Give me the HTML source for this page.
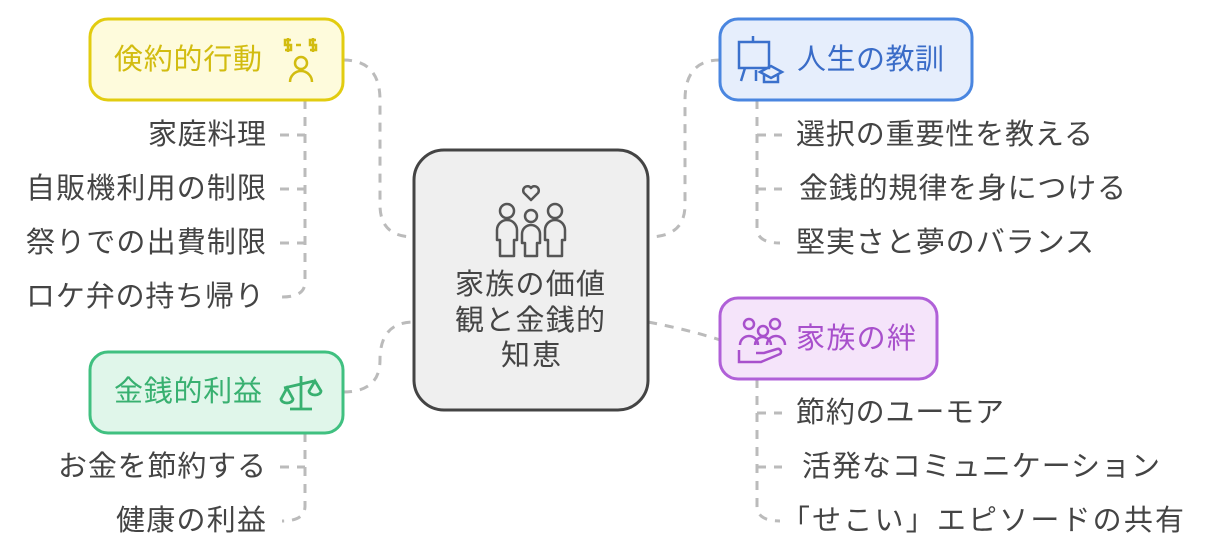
<!DOCTYPE html>
<html><head><meta charset="utf-8"><style>
html,body{margin:0;padding:0;background:#fff;}
svg{display:block;}
text{font-family:"Liberation Sans","Noto Sans CJK JP",sans-serif;font-size:29px;dominant-baseline:central;}
.leaf{fill:#444;}
.d{fill:none;stroke:#bbb;stroke-width:3;stroke-dasharray:9 8;}
</style></head><body>
<svg width="1206" height="560" viewBox="0 0 1206 560" xmlns="http://www.w3.org/2000/svg">
<path class="d" d="M343 60 Q380 60 380 100 L380 205 Q380 237 414 237"/>
<path class="d" d="M720 60 Q685 60 685 100 L685 205 Q685 237 648 237"/>
<path class="d" d="M343 392 Q380 392 380 360 Q380 322 414 322"/>
<path class="d" d="M648 322 Q690 330 720 340"/>
<path class="d" d="M305 100 L305 282 Q305 297 282 297"/>
<path class="d" d="M280 135 L305 135 M280 189 L305 189 M280 243 L305 243"/>
<path class="d" d="M757 100 L757 228 Q757 243 780 243"/>
<path class="d" d="M757 135 L782 135 M757 189 L782 189"/>
<path class="d" d="M757 379 L757 506 Q757 521 780 521"/>
<path class="d" d="M757 413 L782 413 M757 467 L782 467"/>
<path class="d" d="M305 433 L305 506 Q305 521 282 521"/>
<path class="d" d="M280 467 L305 467"/>

<rect x="414" y="150" width="234" height="260" rx="30" fill="#efefef" stroke="#444" stroke-width="3"/>
<g fill="none" stroke="#555" stroke-width="2.5" stroke-linejoin="round">
<path d="M531 200 l-7 -7 a4 4 0 0 1 7 -5 a4 4 0 0 1 7 5 z"/>
<circle cx="507" cy="211" r="7"/><circle cx="555" cy="211" r="7"/><circle cx="531" cy="216" r="6"/>
<path d="M497 240 v-10 a10 10 0 0 1 20 0 v10 h-3 v16 h-14 v-16z"/>
<path d="M545 240 v-10 a10 10 0 0 1 20 0 v10 h-3 v16 h-14 v-16z"/>
<path d="M522 243 v-9 a9 9 0 0 1 18 0 v9 h-3 v13 h-12 v-13z"/>
</g>
<text x="455" y="285" class="leaf" textLength="150">家族の価値</text>
<text x="455" y="321" class="leaf" textLength="150">観と金銭的</text>
<text x="501" y="356" class="leaf" textLength="60">知恵</text>

<rect x="90" y="19" width="253" height="81" rx="18" fill="#fefbdc" stroke="#e2cc10" stroke-width="3"/>
<text x="114" y="60" fill="#d2bc10" textLength="148">倹約的行動</text>
<g fill="none" stroke="#d2bc10" stroke-width="2.5"><path d="M291 40 h-6 v5 h6 v5 h-6 M288 38 v14 M296 45 h5 M316 40 h-6 v5 h6 v5 h-6 M313 38 v14"/><circle cx="301" cy="63" r="6"/><path d="M290 82 a11 11 0 0 1 22 0"/></g>

<rect x="720" y="19" width="252" height="81" rx="18" fill="#e6eefc" stroke="#4a86e0" stroke-width="3"/>
<g fill="none" stroke="#3a70cc" stroke-width="2.5"><rect x="739" y="42" width="30" height="26"/><path d="M753 36 v6 M745 68 l-4 13 M756 81 v-11"/><path d="M760 72 l11 -6 l11 6 l-11 6z M764 75 v7 h14 v-7"/></g>
<text x="797" y="60" fill="#3a6cc8" textLength="147">人生の教訓</text>
<text x="796" y="135" class="leaf" textLength="297">選択の重要性を教える</text>
<text x="799" y="189" class="leaf" textLength="327">金銭的規律を身につける</text>
<text x="796" y="243" class="leaf" textLength="298">堅実さと夢のバランス</text>

<rect x="720" y="298" width="217" height="81" rx="18" fill="#f5e4fa" stroke="#b060d8" stroke-width="3"/>
<g fill="none" stroke="#a850cc" stroke-width="2.5"><circle cx="749" cy="324" r="5"/><circle cx="775" cy="324" r="5"/><circle cx="763" cy="331" r="5"/><path d="M740 345 a9 9 0 0 1 18 0 M767 345 a9 9 0 0 1 18 0 M755 345 a8 8 0 0 1 16 0"/><path d="M739 350 v12 h22 l19 -8 a3 3 0 0 0 -3 -5 l-13 4 h-8"/></g>
<text x="796" y="339" fill="#a850cc" textLength="120">家族の絆</text>
<text x="796" y="413" class="leaf" textLength="208">節約のユーモア</text>
<text x="802" y="467" class="leaf" textLength="358">活発なコミュニケーション</text>
<text x="781" y="521" class="leaf" textLength="403">「せこい」エピソードの共有</text>

<rect x="90" y="352" width="253" height="81" rx="18" fill="#e0f6ea" stroke="#40c080" stroke-width="3"/>
<text x="114" y="392" fill="#38b070" textLength="148">金銭的利益</text>
<g fill="none" stroke="#38b070" stroke-width="2.8"><path d="M301 376 v32 M290 409 h22 M284 388 l30 -7"/><path d="M281 399 l6 -11 l6 11 a6 4 0 0 1 -12 0 z M309 391 l6 -10 l6 10 a6 4 0 0 1 -12 0 z"/></g>

<text x="148" y="135" class="leaf" textLength="118">家庭料理</text>
<text x="26" y="189" class="leaf" textLength="240">自販機利用の制限</text>
<text x="26" y="243" class="leaf" textLength="240">祭りでの出費制限</text>
<text x="26" y="297" class="leaf" textLength="238">ロケ弁の持ち帰り</text>
<text x="58" y="467" class="leaf" textLength="208">お金を節約する</text>
<text x="116" y="521" class="leaf" textLength="150">健康の利益</text>
</svg>
</body></html>
